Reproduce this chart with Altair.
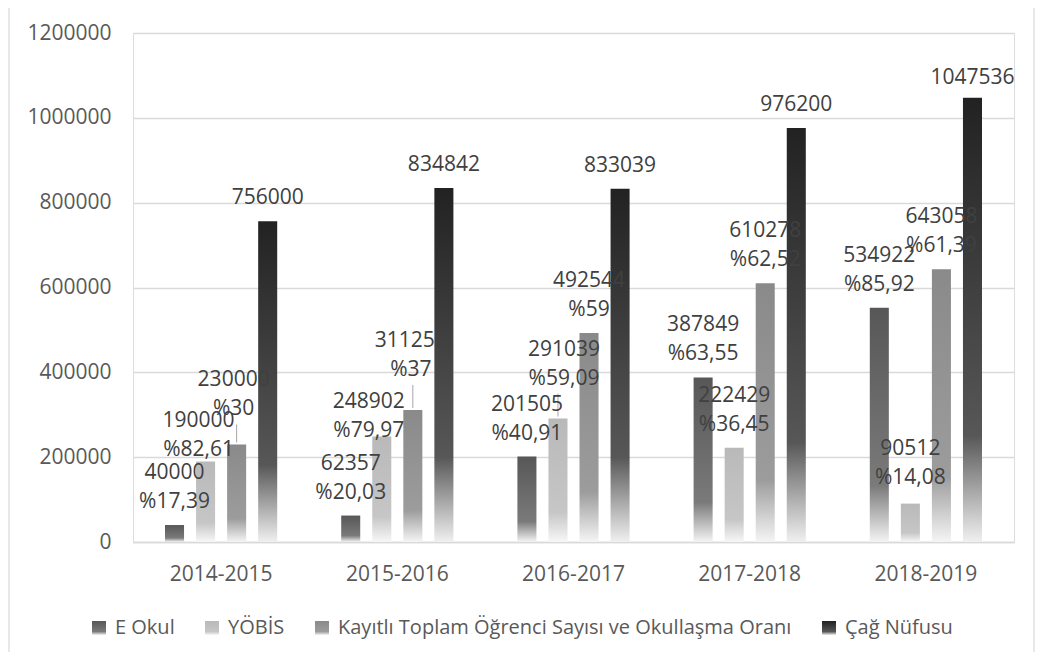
import altair as alt
import pandas as pd

# ---------------- data ----------------
years = ["2014-2015", "2015-2016", "2016-2017", "2017-2018", "2018-2019"]
series = ["E Okul", "YÖBİS", "Kayıtlı Toplam Öğrenci Sayısı ve Okullaşma Oranı", "Çağ Nüfusu"]

e_okul = [40000, 62357, 201505, 387849, 552546]          # bar heights as drawn
e_okul_printed = [40000, 62357, 201505, 387849, 534922]  # numbers printed on labels
yobis = [190000, 248902, 291039, 222429, 90512]
kayitli = [230000, 311259, 492544, 610278, 643058]
cag = [756000, 834842, 833039, 976200, 1047536]

e_okul_pct = [17.39, 20.03, 40.91, 63.55, 85.92]
yobis_pct = [82.61, 79.97, 59.09, 36.45, 14.08]
kayitli_pct = [30, 37, 59, 62.52, 61.39]

y_ticks = [0, 200000, 400000, 600000, 800000, 1000000, 1200000]

# ---------------- label nudges (pixels) ----------------
K = series[2]
label_nudge = {
    ("2014-2015", "YÖBİS"): (-7, 12),
    ("2014-2015", K): (-3, -12),
    ("2015-2016", "YÖBİS"): (-13, 18),
    ("2015-2016", K): (-2, -17),
    ("2016-2017", "YÖBİS"): (6, -17),
    ("2018-2019", "YÖBİS"): (0, -3),
    ("2018-2019", "Çağ Nüfusu"): (0, 3),
}
leaders = [("2014-2015", K), ("2015-2016", K), ("2016-2017", "YÖBİS")]

LINE_H = 29

def pct_txt(p):
    return ("%g" % p).replace(".", ",")

rows = []
vals = [e_okul, yobis, kayitli, cag]
printed = [e_okul_printed, yobis, kayitli, cag]
pcts = [e_okul_pct, yobis_pct, kayitli_pct, None]
for si, s in enumerate(series):
    for yi, yr in enumerate(years):
        v = vals[si][yi]
        txt = str(printed[si][yi])
        extra = 0
        if pcts[si] is not None:
            txt += "\n%" + pct_txt(pcts[si][yi])
            extra = LINE_H
        dx, dy = label_nudge.get((yr, s), (0, 0))
        rows.append({"year": yr, "series": s, "value": v, "label": txt,
                     "ldx": dx, "ldy": dy, "lift": extra,
                     "leader": (yr, s) in leaders})
df = pd.DataFrame(rows)

H = 509
PX = 1200000 / H  # data units per pixel

FONT = "Open Sans"

grads = [
    ("#575757", "#7a7a7a", "#f4f4f4"),   # E Okul
    ("#b9b9b9", "#c6c6c6", "#f7f7f7"),   # YÖBİS
    ("#8a8a8a", "#9c9c9c", "#f5f5f5"),   # Kayıtlı
    ("#222222", "#575757", "#f0f0f0"),   # Çağ Nüfusu
]

def grad_expr(c):
    return ("({gradient:'linear',x1:0,y1:0,x2:0,y2:1,stops:[{offset:0,color:'%s'},"
            "{offset:0.76,color:'%s'},{offset:1,color:'%s'}]})" % c)

color_range = [alt.ExprRef(grad_expr(c)) for c in grads]

x_enc = alt.X("year:N", sort=years,
              scale=alt.Scale(domain=years, paddingInner=0.3632, paddingOuter=0.1816),
              axis=alt.Axis(title=None, labelAngle=0, ticks=False, labelPadding=21,
                            domainColor="#d9d9d9", domainWidth=1.5,
                            labelFont=FONT, labelFontSize=21, labelColor="#595959"))
xo_enc = alt.XOffset("series:N", sort=series,
                     scale=alt.Scale(domain=series, paddingInner=0.387, paddingOuter=0))
y_enc = alt.Y("value:Q",
              scale=alt.Scale(domain=[0, 1200000], nice=False),
              axis=alt.Axis(title=None, values=y_ticks, format="d", domain=False,
                            ticks=False, labelPadding=22, gridColor="#d9d9d9",
                            gridWidth=1.3, labelFont=FONT, labelFontSize=21,
                            labelColor="#595959"))

base = alt.Chart(df)

bars = base.mark_bar(strokeWidth=0).encode(
    x=x_enc, xOffset=xo_enc, y=y_enc,
    color=alt.Color("series:N", sort=series,
                    scale=alt.Scale(domain=series, range=color_range),
                    legend=alt.Legend(orient="none", legendX=-44, legendY=585,
                                      direction="horizontal", title=None,
                                      symbolType="square", symbolSize=196,
                                      symbolStrokeWidth=0, symbolOpacity=1,
                                      labelFont=FONT, labelFontSize=20,
                                      labelLimit=700,
                                      labelColor="#595959", columnPadding=27,
                                      labelOffset=6)),
)

leader_layer = base.transform_filter(alt.datum.leader).transform_calculate(
    ltop="datum.value + (8 - datum.ldy) * %f" % PX,
    lbot="datum.value + 2 * %f" % PX,
).mark_rule(color="#a6a6a6", strokeWidth=1).encode(
    x=x_enc, xOffset=xo_enc, y=alt.Y("ltop:Q"), y2="lbot:Q")

text_layer = base.mark_text(
    font=FONT, fontSize=21, color="#404040", baseline="bottom", align="center",
    lineBreak="\n", lineHeight=LINE_H,
    dx=alt.ExprRef("datum.ldx"), dy=alt.ExprRef("datum.ldy - 13 - datum.lift"),
).encode(x=x_enc, xOffset=xo_enc, y=y_enc, text="label:N")

# light frame lines at the chart's left and right edges
frame = alt.Chart(pd.DataFrame({"edge": [-124, 901]})).mark_rule(
    color="#d9d9d9", strokeWidth=1.2).encode(
    x=alt.X("edge:Q", scale=None), y=alt.value(-30), y2=alt.value(640))

chart = alt.layer(frame, bars, leader_layer, text_layer).properties(
    width=881, height=H,
    padding={"left": 125, "top": 25, "right": 21, "bottom": 110},
    autosize=alt.AutoSizeParams(type="none"),
).configure_view(stroke=None).configure(background="white")

chart.save("out.html", embed_options={"renderer": "svg", "actions": False})
